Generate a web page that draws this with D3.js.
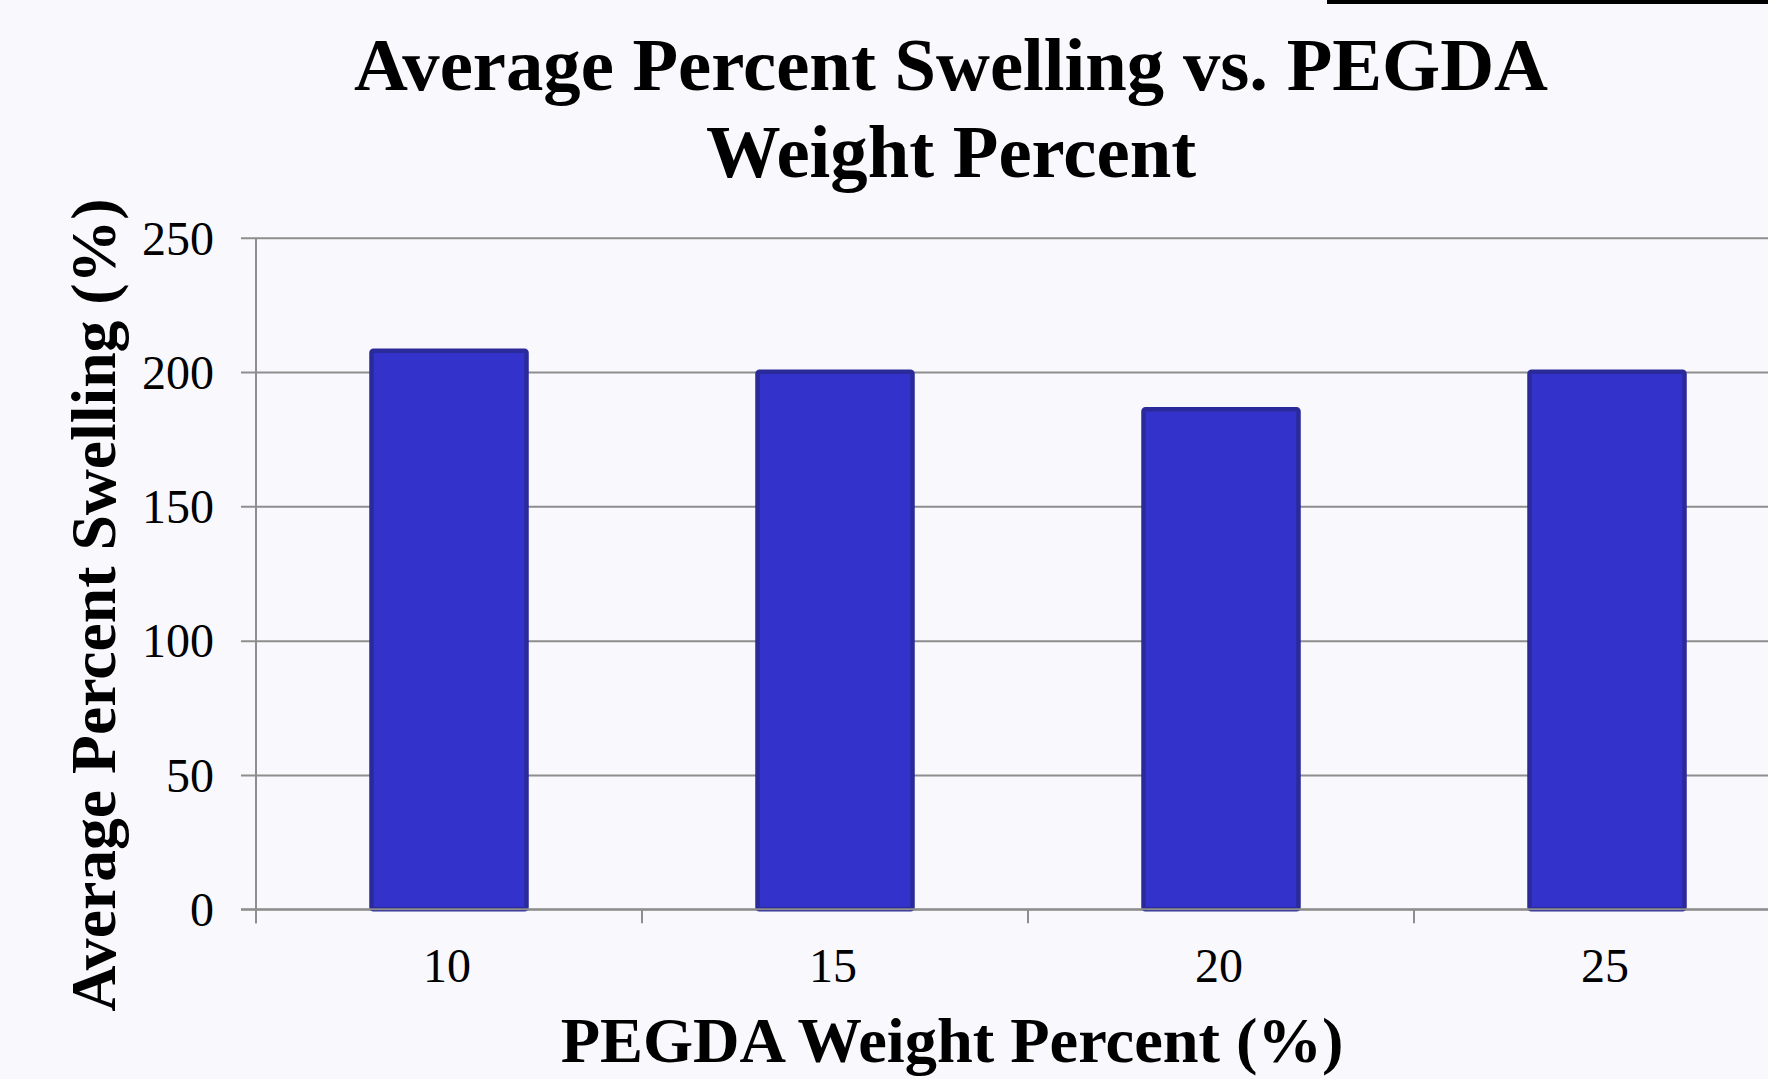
<!DOCTYPE html>
<html>
<head>
<meta charset="utf-8">
<script src="https://cdn.jsdelivr.net/npm/d3@7"></script>
<style>
  html, body { margin: 0; padding: 0; background: #f8f8fd; overflow: hidden; }
  svg { display: block; font-family: "Liberation Serif", "Times New Roman", serif; }
</style>
</head>
<body>
<svg id="chart" width="1768" height="1079"></svg>
<script>
// PEGDA weight percent (categories) and average percent swelling
const categories = ["10", "15", "20", "25"];
const swelling = [208.7, 200.8, 186.9, 200.8];
const yTicks = [0, 50, 100, 150, 200, 250];
const titleLines = ["Average Percent Swelling vs. PEGDA", "Weight Percent"];
const xTitle = "PEGDA Weight Percent (%)";
const yTitle = "Average Percent Swelling (%)";

const svg = d3.select("#chart");
const W = 1768, H = 1079;

const plot = { left: 256, top: 237.7, bottom: 909.3, step: 386 };
const plotRight = plot.left + plot.step * categories.length;

svg.append("rect").attr("width", W).attr("height", H).attr("fill", "#f8f8fd");

// short black rule at the top right
svg.append("rect").attr("x", 1327).attr("y", 0).attr("width", W - 1327).attr("height", 4).attr("fill", "#000");

const x = d3.scaleBand()
  .domain(categories)
  .range([plot.left, plotRight])
  .paddingInner(0.5984)
  .paddingOuter(0.2992);

const y = d3.scaleLinear().domain([0, 250]).range([plot.bottom, plot.top]);

const gridColor = "#8e8e8e";

// horizontal gridlines with outward ticks
const yAxis = d3.axisLeft(y)
  .tickValues(yTicks)
  .tickSize(-(W - plot.left))
  .tickSizeOuter(0)
  .tickPadding(27)
  .tickFormat(d3.format("d"));

const gy = svg.append("g")
  .attr("transform", `translate(${plot.left},0)`)
  .call(yAxis);
gy.select(".domain").remove();
gy.selectAll(".tick line")
  .attr("x1", -15)
  .attr("stroke", gridColor)
  .attr("stroke-width", 2);
gy.selectAll(".tick text")
  .attr("x", -42)
  .attr("font-size", 48)
  .attr("fill", "#000")
  .attr("dy", "0.34em")
  .style("font-family", "Liberation Serif");

// vertical axis line
svg.append("line")
  .attr("x1", plot.left).attr("x2", plot.left)
  .attr("y1", plot.top).attr("y2", plot.bottom + 14)
  .attr("stroke", gridColor).attr("stroke-width", 2);

// bars
svg.append("g").selectAll("rect")
  .data(categories.map((c, i) => ({ c, v: swelling[i] })))
  .join("rect")
  .attr("x", d => x(d.c))
  .attr("width", x.bandwidth())
  .attr("y", d => y(d.v) + 2)
  .attr("height", d => y(0) - y(d.v) - 2)
  .attr("rx", 2)
  .attr("fill", "#3333cc")
  .attr("stroke", "#2a2a9a")
  .attr("stroke-width", 4.5);

// x baseline and category boundary ticks
svg.append("line")
  .attr("x1", plot.left - 15).attr("x2", W)
  .attr("y1", plot.bottom).attr("y2", plot.bottom)
  .attr("stroke", gridColor).attr("stroke-width", 2);

const boundaries = d3.range(categories.length + 1).map(i => plot.left + i * x.step());
svg.append("g").selectAll("line")
  .data(boundaries)
  .join("line")
  .attr("x1", d => d).attr("x2", d => d)
  .attr("y1", plot.bottom).attr("y2", plot.bottom + 14)
  .attr("stroke", gridColor).attr("stroke-width", 2);

// category labels
svg.append("g").selectAll("text")
  .data(categories)
  .join("text")
  .attr("x", d => x(d) + x.bandwidth() / 2 - 2)
  .attr("y", 981.7)
  .attr("text-anchor", "middle")
  .attr("font-size", 48)
  .text(d => d);

// chart title
svg.append("g").selectAll("text")
  .data(titleLines)
  .join("text")
  .attr("x", 951)
  .attr("y", (d, i) => 90 + i * 86.7)
  .attr("text-anchor", "middle")
  .attr("font-size", 74.7)
  .attr("font-weight", "bold")
  .text(d => d);

// axis titles
svg.append("text")
  .attr("x", 952)
  .attr("y", 1061.7)
  .attr("text-anchor", "middle")
  .attr("font-size", 64.4)
  .attr("font-weight", "bold")
  .text(xTitle);

svg.append("text")
  .attr("transform", "translate(115,605) rotate(-90)")
  .attr("text-anchor", "middle")
  .attr("font-size", 63.7)
  .attr("font-weight", "bold")
  .text(yTitle);
</script>
</body>
</html>
